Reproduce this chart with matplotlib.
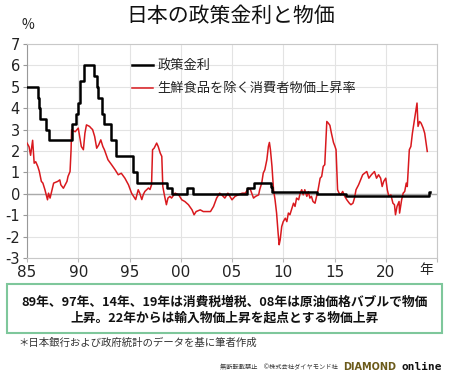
import matplotlib
matplotlib.use("Agg")
import matplotlib.pyplot as plt
from matplotlib.patches import Rectangle
import numpy as np

plt.rcParams['font.family'] = ['Noto Sans CJK JP', 'DejaVu Sans']

# Core CPI (ex fresh food), YoY %
cpi_year = [1985.0, 1985.2, 1985.35, 1985.55, 1985.7, 1985.85, 1986.05, 1986.2, 1986.4, 1986.55,
            1986.75, 1987.0, 1987.1, 1987.25, 1987.6, 1988.0, 1988.2, 1988.3, 1988.55, 1988.9,
            1989.0, 1989.2, 1989.3, 1989.35, 1989.7, 1990.0, 1990.3, 1990.5, 1990.65, 1990.8,
            1991.1, 1991.25, 1991.4, 1991.6, 1991.8, 1992.0, 1992.2, 1992.4, 1992.55, 1992.9,
            1993.25, 1993.6, 1993.9, 1994.2, 1994.55, 1994.9, 1995.2, 1995.5, 1995.6, 1995.85,
            1996.0, 1996.2, 1996.35, 1996.5, 1996.85, 1997.0, 1997.15, 1997.25, 1997.4, 1997.65,
            1997.8, 1998.0, 1998.15, 1998.25, 1998.4, 1998.6, 1998.75, 1998.95, 1999.1, 1999.45,
            1999.8, 2000.1, 2000.4, 2000.75, 2001.1, 2001.3, 2001.5, 2001.9, 2002.2, 2002.55,
            2002.9, 2003.2, 2003.5, 2003.8, 2004.0, 2004.3, 2004.6, 2004.9, 2005.0, 2005.3,
            2005.6, 2006.0, 2006.3, 2006.6, 2006.8, 2007.1, 2007.3, 2007.6, 2007.7, 2007.9,
            2008.05, 2008.2, 2008.4, 2008.55, 2008.65, 2008.75, 2008.9, 2009.05, 2009.2, 2009.35,
            2009.5, 2009.6, 2009.7, 2009.85, 2010.0, 2010.2, 2010.35, 2010.5, 2010.65, 2010.8,
            2011.0, 2011.15, 2011.3, 2011.5, 2011.65, 2011.8, 2011.95, 2012.1, 2012.3, 2012.45,
            2012.6, 2012.75, 2012.9, 2013.1, 2013.25, 2013.4, 2013.6, 2013.75, 2013.9, 2014.05,
            2014.25, 2014.4, 2014.55, 2014.7, 2014.9, 2015.05, 2015.15, 2015.3, 2015.45, 2015.6,
            2015.8, 2016.0, 2016.2, 2016.45, 2016.6, 2016.8, 2016.95, 2017.1, 2017.35, 2017.55,
            2017.75, 2017.95, 2018.15, 2018.35, 2018.6, 2018.9, 2019.1, 2019.3, 2019.5, 2019.65,
            2019.8, 2020.0, 2020.15, 2020.3, 2020.5, 2020.7, 2020.85, 2020.95, 2021.1, 2021.3,
            2021.35, 2021.55, 2021.7, 2021.85, 2022.0, 2022.1, 2022.3, 2022.45, 2022.6, 2022.75,
            2022.9, 2023.05, 2023.15, 2023.3, 2023.45, 2023.65, 2023.8, 2024.05]
cpi_value = [2.37, 2.2, 1.8, 2.5, 1.43, 1.5, 1.28, 1.05, 0.58, 0.5,
             0.19, -0.28, 0.03, -0.2, 0.5, 0.58, 0.65, 0.42, 0.26, 0.58,
             0.81, 1.04, 2.06, 2.99, 2.9, 3.07, 2.21, 2.06, 2.83, 3.22,
             3.15, 3.07, 3.0, 2.68, 2.13, 2.29, 2.52, 2.21, 2.06, 1.59,
             1.36, 1.12, 0.89, 0.96, 0.73, 0.42, 0.03, -0.2, -0.27, 0.19,
             0.03, -0.27, -0.03, 0.11, 0.27, 0.2, 0.42, 2.06, 2.13, 2.37,
             2.21, 1.9, 1.75, 0.34, -0.05, -0.51, -0.2, -0.12, -0.2, 0.03,
             -0.05, -0.28, -0.36, -0.51, -0.75, -0.98, -0.83, -0.75, -0.83, -0.83,
             -0.83, -0.59, -0.2, 0.03, -0.05, -0.2, 0.03, -0.2, -0.28, -0.12,
             -0.05, 0.03, 0.03, 0.26, 0.19, -0.2, -0.12, -0.05, 0.19, 0.5,
             0.97, 1.12, 1.59, 2.21, 2.4, 2.06, 1.28, 0.19, -0.28, -0.9,
             -1.84, -2.38, -2.15, -1.53, -1.3, -1.14, -1.3, -0.9, -0.98, -0.75,
             -0.44, -0.59, -0.2, -0.28, 0.03, 0.19, -0.05, 0.19, -0.12, 0.1,
             -0.2, -0.12, -0.36, -0.44, -0.12, 0.19, 0.73, 0.81, 1.28, 1.36,
             3.38, 3.3, 3.2, 2.83, 2.4, 2.21, 2.06, 0.19, 0.03, -0.05,
             0.11, -0.12, -0.28, -0.44, -0.51, -0.44, -0.2, 0.19, 0.42, 0.65,
             0.89, 0.97, 1.04, 0.73, 0.89, 1.04, 0.73, 0.89, 0.73, 0.34,
             0.58, 0.73, 0.19, -0.12, -0.05, -0.44, -0.51, -0.98, -0.59, -0.36,
             -0.9, -0.28, 0.03, 0.11, 0.5, 0.34, 2.06, 2.21, 2.83, 3.3,
             3.77, 4.24, 3.15, 3.38, 3.3, 3.07, 2.83, 1.98]

# Policy rate (step changes)
rate_year = [1985.0, 1986.05, 1986.2, 1986.3, 1986.85, 1987.15, 1989.4, 1989.8, 1989.95, 1990.2,
             1990.6, 1991.5, 1991.85, 1991.95, 1992.3, 1992.55, 1993.15, 1993.7, 1995.3, 1995.7,
             1998.7, 1999.1, 2000.6, 2001.15, 2006.5, 2007.1, 2008.8, 2008.95, 2013.3, 2016.1,
             2024.2, 2024.3]
rate_value = [5.0, 4.5, 4.0, 3.5, 3.0, 2.5, 3.25, 3.75, 4.25, 5.25,
              6.0, 5.5, 5.0, 4.5, 3.75, 3.25, 2.5, 1.75, 1.0, 0.5,
              0.25, 0.0, 0.25, 0.0, 0.25, 0.5, 0.3, 0.1, 0.0, -0.1,
              0.1, 0.1]

x_ticks = [1985, 1990, 1995, 2000, 2005, 2010, 2015, 2020, 2025]
x_labels = ['85', '90', '95', '00', '05', '10', '15', '20', '']
year_label = '年'
y_ticks = list(range(-3, 8))

title = '日本の政策金利と物価'
legend_rate = '政策金利'
legend_cpi = '生鮮食品を除く消費者物価上昇率'
note_lines = ['89年、97年、14年、19年は消費税増税、08年は原油価格バブルで物価',
              '上昇。22年からは輸入物価上昇を起点とする物価上昇']
source = '＊日本銀行および政府統計のデータを基に筆者作成'

W, H = 450, 378
fig = plt.figure(figsize=(W / 100, H / 100), dpi=100)
ax = fig.add_axes([27 / W, 1 - 258 / H, 410 / W, 214 / H])

num_font = ['Liberation Sans Narrow', 'DejaVu Sans']

ax.set_xlim(1985, 2025)
ax.set_ylim(-3, 7)
ax.set_xticks(x_ticks)
ax.set_xticklabels(x_labels, family=num_font, fontsize=11)
ax.set_yticks(y_ticks)
ax.set_yticklabels([str(v) for v in y_ticks], family=num_font, fontsize=10.5)
ax.tick_params(axis='y', length=3, color='#999999', pad=2, labelcolor='#222222')
ax.tick_params(axis='x', length=3, color='#bbbbbb', pad=2, labelcolor='#222222')
ax.text(2024.0, -3.22, year_label, fontsize=10, ha='center', va='top', color='#222222')

ax.grid(True, color='#e3e3e3', linewidth=0.8)
ax.set_axisbelow(True)
for s in ['top', 'right', 'bottom']:
    ax.spines[s].set_color('#c8c8c8')
ax.spines['left'].set_color('#999999')
ax.axhline(0, color='#aaaaaa', linewidth=1.0, zorder=1)

ax.plot(cpi_year, cpi_value, color='#d9191e', linewidth=1.1, zorder=3)
ax.step(rate_year, rate_value, where='post', color='black', linewidth=1.8, zorder=4)

# legend (manual)
ax.plot([1995.2, 1997.3], [6.0, 6.0], color='black', linewidth=1.8)
ax.text(1997.7, 6.0, legend_rate, fontsize=9.5, va='center', ha='left', color='#222222')
ax.plot([1995.2, 1997.3], [4.93, 4.93], color='#d9191e', linewidth=1.1)
ax.text(1997.7, 4.93, legend_cpi, fontsize=9.5, va='center', ha='left', color='#222222')

fig.text(231 / W, 1 - 16 / H, title, fontsize=15, ha='center', va='center', color='#111111')
fig.text(28 / W, 1 - 25 / H, '%', fontsize=10, ha='center', va='center', color='#222222')

# note box
fig.patches.append(Rectangle((7 / W, 1 - 333 / H), 435 / W, 49 / H, transform=fig.transFigure,
                             fill=False, edgecolor='#7ec79b', linewidth=1.5))
fig.text(225 / W, 1 - 302 / H, note_lines[0], fontsize=9.2, fontweight='bold',
         ha='center', va='center', color='#111111')
fig.text(225 / W, 1 - 318 / H, note_lines[1], fontsize=9.2, fontweight='bold',
         ha='center', va='center', color='#111111')
fig.text(18 / W, 1 - 343 / H, source, fontsize=7.5, ha='left', va='center', color='#333333')

fig.text(338 / W, 1 - 367 / H, '無断転載禁止　©株式会社ダイヤモンド社', fontsize=4.5,
         ha='right', va='center', color='#333333')
fig.text(396 / W, 1 - 367 / H, 'DIAMOND', fontsize=7, fontweight='bold', ha='right',
         va='center', color='#6b5a1a', family=num_font)
fig.text(442 / W, 1 - 367 / H, 'online', fontsize=8, fontweight='bold', ha='right',
         va='center', color='#111111', family=['DejaVu Sans Mono', 'DejaVu Sans'])

fig.savefig('out.png', dpi=100)
